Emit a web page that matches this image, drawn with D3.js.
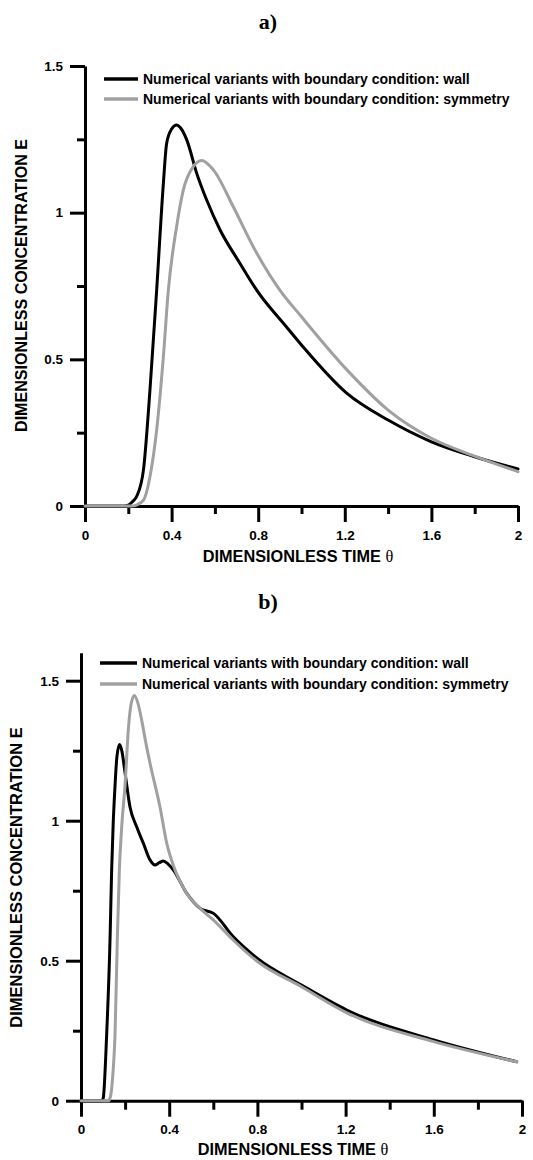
<!DOCTYPE html>
<html>
<head>
<meta charset="utf-8">
<script src="https://cdn.jsdelivr.net/npm/d3@7"></script>
<style>
  body { margin: 0; background: #fff; }
  svg text { font-family: "Liberation Sans", Arial, sans-serif; font-weight: bold; fill: #000; }
  .axis path, .axis line { stroke: #000; stroke-width: 3px; }
  .axis text { font-size: 13.5px; }
  .title { font-family: "Liberation Serif", "Times New Roman", serif !important; font-size: 22px; }
  .theta { font-family: "Liberation Serif", "Times New Roman", serif; font-weight: normal; }
</style>
</head>
<body>
<svg id="chart" width="533" height="1160"></svg>
<script>
// tick values shared by both panels
const xTicks = [0, 0.4, 0.8, 1.2, 1.6, 2];
const xMinor = [0.2, 0.6, 1.0, 1.4, 1.8];
const yTicks = [0, 0.5, 1, 1.5];
const yMinor = [0.25, 0.75, 1.25];

const legendLabels = [
  'Numerical variants with boundary condition: wall',
  'Numerical variants with boundary condition: symmetry'
];

// panel a)
const wallA_t = [0, 0.18, 0.20, 0.22, 0.24, 0.27, 0.30, 0.331, 0.362, 0.377, 0.40, 0.423, 0.44, 0.47, 0.516, 0.562, 0.624, 0.716, 0.793, 0.93, 1.0, 1.21, 1.4, 1.6, 1.8, 2.0];
const wallA_E = [0, 0, 0.003, 0.015, 0.035, 0.123, 0.395, 0.736, 1.10, 1.236, 1.285, 1.299, 1.29, 1.248, 1.134, 1.043, 0.941, 0.827, 0.736, 0.611, 0.549, 0.384, 0.293, 0.219, 0.168, 0.126];
const symA_t = [0, 0.22, 0.24, 0.27, 0.30, 0.331, 0.362, 0.385, 0.423, 0.454, 0.50, 0.539, 0.593, 0.685, 0.777, 0.9, 1.0, 1.21, 1.4, 1.6, 1.8, 2.0];
const symA_E = [0, 0, 0.004, 0.02, 0.10, 0.259, 0.509, 0.736, 0.952, 1.077, 1.157, 1.178, 1.146, 1.02, 0.884, 0.736, 0.645, 0.464, 0.327, 0.231, 0.17, 0.117];

// panel b)
const wallB_t = [0, 0.095, 0.101, 0.116, 0.132, 0.139, 0.146, 0.154, 0.163, 0.175, 0.185, 0.2, 0.222, 0.252, 0.283, 0.313, 0.335, 0.355, 0.373, 0.395, 0.419, 0.479, 0.54, 0.601, 0.69, 0.8, 1.0, 1.205, 1.6, 1.976];
const wallB_E = [0, 0, 0.01, 0.229, 0.586, 0.824, 0.99, 1.12, 1.23, 1.272, 1.25, 1.17, 1.05, 0.979, 0.919, 0.86, 0.842, 0.85, 0.856, 0.845, 0.824, 0.741, 0.687, 0.669, 0.586, 0.508, 0.413, 0.324, 0.217, 0.139];
const symB_t = [0, 0.125, 0.135, 0.145, 0.154, 0.165, 0.174, 0.184, 0.2, 0.215, 0.228, 0.242, 0.258, 0.275, 0.29, 0.313, 0.358, 0.389, 0.419, 0.479, 0.54, 0.601, 0.69, 0.8, 1.0, 1.205, 1.6, 1.976];
const symB_E = [0, 0, 0.02, 0.1, 0.229, 0.586, 0.824, 0.97, 1.13, 1.33, 1.42, 1.447, 1.42, 1.36, 1.295, 1.205, 1.05, 0.919, 0.84, 0.741, 0.687, 0.645, 0.574, 0.497, 0.407, 0.314, 0.211, 0.139];

const colors = ['#000000', '#a0a0a0'];

const svg = d3.select('#chart');

function drawPanel(p) {
  const g = svg.append('g');
  const x = d3.scaleLinear().domain([0, 2]).range(p.xRange);
  const y = d3.scaleLinear().domain(p.yDomain).range(p.yRange);

  // panel letter
  g.append('text')
    .attr('class', 'title')
    .attr('x', p.titlePos[0]).attr('y', p.titlePos[1])
    .attr('text-anchor', 'middle')
    .text(p.title);

  // minor ticks first, then major axes on top
  g.append('g').attr('class', 'axis')
    .attr('transform', `translate(0,${y(0)})`)
    .call(d3.axisBottom(x).tickValues(xMinor).tickSize(p.minorX).tickFormat(''))
    .call(a => a.select('.domain').remove());
  g.append('g').attr('class', 'axis')
    .attr('transform', `translate(${x(0)},0)`)
    .call(d3.axisLeft(y).tickValues(yMinor).tickSize(p.minorY).tickFormat(''))
    .call(a => a.select('.domain').remove());

  g.append('g').attr('class', 'axis')
    .attr('transform', `translate(0,${y(0)})`)
    .call(d3.axisBottom(x).tickValues(xTicks).tickSize(16).tickSizeOuter(0).tickPadding(8).tickFormat(d => String(d)));
  g.append('g').attr('class', 'axis')
    .attr('transform', `translate(${x(0)},0)`)
    .call(d3.axisLeft(y).tickValues(yTicks).tickSize(15).tickSizeOuter(0).tickPadding(7).tickFormat(d => String(d)));

  // axis titles
  const xt = g.append('text')
    .attr('x', p.xTitlePos[0]).attr('y', p.xTitlePos[1])
    .attr('text-anchor', 'middle')
    .style('font-size', '16.3px');
  xt.append('tspan').text('DIMENSIONLESS TIME ');
  xt.append('tspan').attr('class', 'theta').text('θ');

  g.append('text')
    .attr('transform', `translate(${p.yTitlePos[0]},${p.yTitlePos[1]}) rotate(-90)`)
    .attr('text-anchor', 'middle')
    .style('font-size', p.yTitleSize + 'px')
    .text('DIMENSIONLESS CONCENTRATION E');

  // curves
  const line = d3.line()
    .x(d => x(d[0]))
    .y(d => y(d[1]))
    .curve(d3.curveMonotoneX);

  p.series.forEach((s, i) => {
    g.append('path')
      .datum(d3.zip(s[0], s[1]))
      .attr('d', line)
      .attr('fill', 'none')
      .attr('stroke', colors[i])
      .attr('stroke-width', 3)
      .attr('stroke-linejoin', 'round')
      .attr('stroke-linecap', 'round');
  });

  // legend
  legendLabels.forEach((lab, i) => {
    const ly = p.legendY[i];
    g.append('line')
      .attr('x1', p.legendX[0]).attr('x2', p.legendX[1])
      .attr('y1', ly).attr('y2', ly)
      .attr('stroke', colors[i]).attr('stroke-width', 3.5);
    g.append('text')
      .attr('x', p.legendX[2]).attr('y', ly + 5)
      .style('font-size', '14px')
      .text(lab);
  });
}

drawPanel({
  title: 'a)', titlePos: [268, 29],
  xRange: [85, 518], yDomain: [0, 1.5], yRange: [506, 66],
  minorX: 8, minorY: 8,
  xTitlePos: [298, 562], yTitlePos: [27, 285.5], yTitleSize: 16.1,
  legendX: [104, 138, 143], legendY: [79, 99],
  series: [[wallA_t, wallA_E], [symA_t, symA_E]]
});

drawPanel({
  title: 'b)', titlePos: [268, 609],
  xRange: [81, 522], yDomain: [0, 1.6], yRange: [1100.7, 652.7],
  minorX: 9, minorY: 8,
  xTitlePos: [293, 1155], yTitlePos: [22, 877.5], yTitleSize: 16.5,
  legendX: [100, 137, 142], legendY: [663, 684],
  series: [[wallB_t, wallB_E], [symB_t, symB_E]]
});
</script>
</body>
</html>
